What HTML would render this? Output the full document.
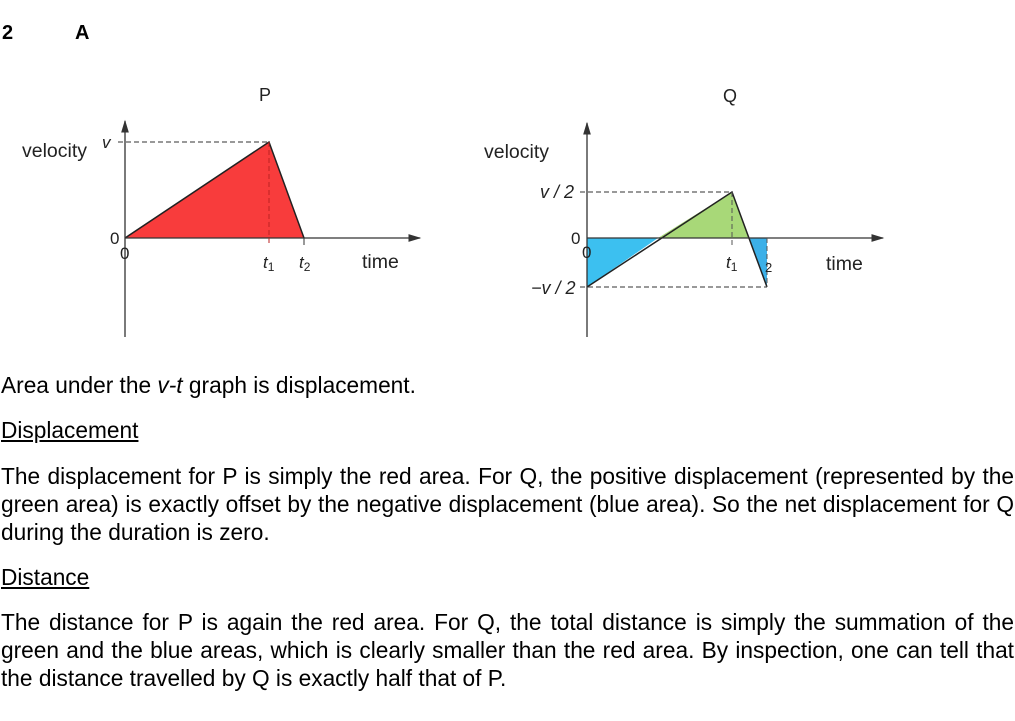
<!DOCTYPE html>
<html><head><style>
body{margin:0;width:1015px;height:721px;background:#fff;font-family:"Liberation Sans",Arial,sans-serif;color:#000;position:relative;overflow:hidden}
.t{position:absolute;left:1px;width:1013px;font-size:22.7px;line-height:28px;text-align:justify}
u{text-decoration:underline}
</style></head><body>
<div style="position:absolute;left:2px;top:22px;font-size:20px;font-weight:bold">2</div>
<div style="position:absolute;left:75px;top:22px;font-size:20px;font-weight:bold">A</div>
<svg width="1015" height="360" style="position:absolute;left:0;top:0" font-family="Liberation Sans,Arial,sans-serif">
<defs><marker id="a" markerWidth="10" markerHeight="8" refX="9" refY="4" orient="auto"><path d="M0,1 L10,4 L0,7 Z" fill="#333"/></marker></defs>
<!-- P -->
<polygon points="125,238 269,142 304,238" fill="#f83c3c"/>
<polyline points="125,238 269,142 304,238" fill="none" stroke="#222" stroke-width="1.5"/>
<line x1="125" y1="337" x2="125" y2="121" stroke="#333" stroke-width="1.3" marker-end="url(#a)"/>
<line x1="125" y1="238" x2="420" y2="238" stroke="#333" stroke-width="1.3" marker-end="url(#a)"/>
<line x1="118" y1="142" x2="269" y2="142" stroke="#333" stroke-dasharray="5,3"/>
<line x1="269" y1="142" x2="269" y2="245" stroke="#b22" stroke-dasharray="5,3"/>
<line x1="304" y1="238" x2="304" y2="245" stroke="#333"/>
<text x="259" y="101" font-size="18" fill="#222">P</text>
<text x="22" y="157" font-size="19.5" fill="#222">velocity</text>
<text x="102" y="148" font-size="17" font-style="italic" fill="#222">v</text>
<text x="110" y="244" font-size="17" fill="#222">0</text>
<text x="120" y="259" font-size="17" fill="#222">0</text>
<text x="263" y="268" font-size="17" font-style="italic" fill="#222">t<tspan font-size="12" dy="3" font-style="normal">1</tspan></text>
<text x="299" y="268" font-size="17" font-style="italic" fill="#222">t<tspan font-size="12" dy="3" font-style="normal">2</tspan></text>
<text x="362" y="268" font-size="19.5" fill="#222">time</text>
<!-- Q -->
<polygon points="587,238 658,238 587,287" fill="#3cc0f0"/>
<polygon points="658,238 732,192 749,238" fill="#a8d878"/>
<polygon points="749,238 767,238 767,287" fill="#3cb0e8"/>
<polyline points="587,287 732,192 767,287" fill="none" stroke="#222" stroke-width="1.5"/>
<line x1="587" y1="337" x2="587" y2="123" stroke="#333" stroke-width="1.3" marker-end="url(#a)"/>
<line x1="587" y1="238" x2="883" y2="238" stroke="#333" stroke-width="1.3" marker-end="url(#a)"/>
<line x1="580" y1="192" x2="732" y2="192" stroke="#333" stroke-dasharray="5,3"/>
<line x1="580" y1="287" x2="767" y2="287" stroke="#333" stroke-dasharray="5,3"/>
<line x1="732" y1="192" x2="732" y2="245" stroke="#555" stroke-dasharray="5,3"/>
<line x1="767" y1="238" x2="767" y2="287" stroke="#555" stroke-dasharray="5,3"/>
<text x="723" y="102" font-size="18" fill="#222">Q</text>
<text x="484" y="158" font-size="19.5" fill="#222">velocity</text>
<text x="540" y="198" font-size="18" font-style="italic" fill="#222">v / 2</text>
<text x="531" y="294" font-size="18" font-style="italic" fill="#222">−v / 2</text>
<text x="571" y="244" font-size="17" fill="#222">0</text>
<text x="582" y="258" font-size="17" fill="#222">0</text>
<text x="726" y="268" font-size="17" font-style="italic" fill="#222">t<tspan font-size="12" dy="3" font-style="normal">1</tspan></text>
<text x="765" y="272" font-size="13" fill="#222">2</text>
<text x="826" y="270" font-size="19.5" fill="#222">time</text>
</svg>
<div class="t" style="top:371px">Area under the <i>v-t</i> graph is displacement.</div>
<div class="t" style="top:416px"><u>Displacement</u></div>
<div class="t" style="top:462px">The displacement for P is simply the red area. For Q, the positive displacement (represented by the green area) is exactly offset by the negative displacement (blue area). So the net displacement for Q during the duration is zero.</div>
<div class="t" style="top:563px"><u>Distance</u></div>
<div class="t" style="top:608px">The distance for P is again the red area. For Q, the total distance is simply the summation of the green and the blue areas, which is clearly smaller than the red area. By inspection, one can tell that the distance travelled by Q is exactly half that of P.</div>
</body></html>
